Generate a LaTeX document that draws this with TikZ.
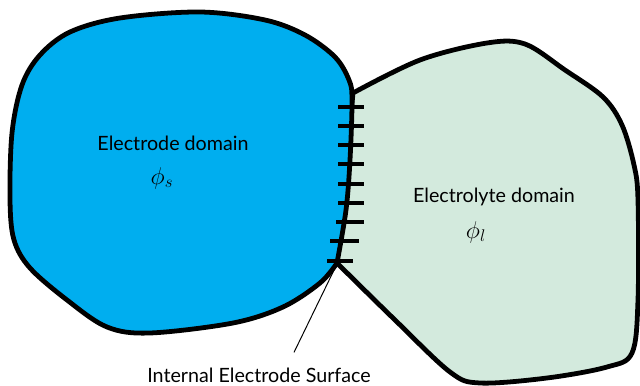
\documentclass[tikz,border=0pt]{standalone}
\usepackage{fontspec}
\setmainfont{Lato}
\usepackage{xcolor}
\definecolor{electrodec}{HTML}{00AEEF}
\definecolor{electrolytec}{HTML}{D3EADD}
\tikzset{
  boundary/.style={draw=black, line width=3.4pt, line join=round},
  electrode/.style={boundary, fill=electrodec},
  electrolyte/.style={boundary, fill=electrolytec},
  surfmark/.style={draw=black, line width=2.8pt},
  pointer/.style={draw=black, line width=0.7pt},
  domtext/.style={inner sep=0pt, font=\fontsize{14}{17}\selectfont},
  potential/.style={inner sep=0pt, font=\fontsize{17}{20}\selectfont},
}

\begin{document}
\begin{tikzpicture}[x=0.025cm,y=-0.025cm]
\useasboundingbox (0,0) rectangle (640,386);
\draw[electrolyte] plot[smooth, tension=0.55] coordinates {(337,263) (395,320) (450,372) (480,383) (547,378) (607,367) (632,353) (638,300) (638,200) (634,165) (622,125) (603,97) (565,70) (525,44) (487,43) (420,60) (353,93)} -- cycle;
\draw[electrode] plot[smooth, tension=0.55] coordinates {(337,263) (320,283) (283,307) (233,323) (150,333) (107,327) (67,300) (30,268) (14,240) (10,200) (12,133) (22,85) (40,55) (70,32) (120,18) (200,12) (265,20) (305,35) (335,57) (349,80) (352,100) (350,160) (346,210) (337,263)} -- cycle;
\foreach \xa/\xb/\yy in {338/364/107, 338/364/126, 338/364/145, 338/364/164, 338/364/184, 338/364/203, 336/364/222, 330/359/241, 327/353/261}
  \draw[surfmark] (\xa,\yy) -- (\xb,\yy);
\node[domtext] (eltext) at (173,143) {Electrode domain};
\node[potential] (phis) at (162,178) {$\phi_s$};
\node[domtext] (lytext) at (494,197) {Electrolyte domain};
\node[potential] (phil) at (476,232) {$\phi_l$};
\node[domtext] (surf) at (259,375) {Internal Electrode Surface};
\coordinate (ies) at (336,266);
\coordinate (iestail) at ([shift={(35,-15)}]surf.north);
\draw[pointer] (ies) -- (iestail);
\end{tikzpicture}
\end{document}
